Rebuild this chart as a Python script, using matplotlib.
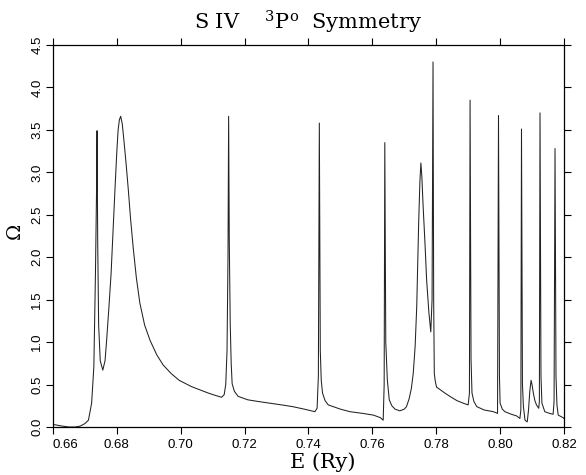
import matplotlib
matplotlib.use("Agg")
import matplotlib.pyplot as plt

# energies (Ry) and collision strength
energy = [0.6600, 0.6615, 0.6630, 0.6650, 0.6670, 0.6685, 0.6700, 0.6711, 0.6721, 0.6728,
          0.6733, 0.67365, 0.6738, 0.6740, 0.6743, 0.6748, 0.6756, 0.6763, 0.6768, 0.6775,
          0.6782, 0.6788, 0.6794, 0.6800, 0.6804, 0.6808, 0.6812, 0.6817, 0.6822, 0.6829, 0.6836,
          0.6843, 0.6851, 0.6861, 0.6872, 0.6887, 0.6904, 0.6925, 0.6945, 0.6970, 0.6995,
          0.7034, 0.7086, 0.7110, 0.7128, 0.7136, 0.7141, 0.7145, 0.7148, 0.7150, 0.7152,
          0.7155, 0.7158, 0.7161, 0.7168, 0.7180, 0.7210, 0.7243, 0.7280, 0.7316, 0.7350,
          0.7387, 0.7410, 0.7420, 0.7427, 0.7431, 0.7434, 0.7437, 0.7440, 0.7444, 0.7452,
          0.7462, 0.7500, 0.7530, 0.7570, 0.7603, 0.7625, 0.7634, 0.7637, 0.7639, 0.7642,
          0.7647, 0.7653, 0.7661, 0.7671, 0.7686, 0.7700, 0.7707, 0.7715, 0.7722, 0.7728,
          0.7734, 0.7739, 0.7745, 0.7749, 0.7752, 0.7755, 0.7759, 0.7765, 0.7770, 0.7777,
          0.7783, 0.7787, 0.7790, 0.7792, 0.7794, 0.7797, 0.7801, 0.7812, 0.7827, 0.7843,
          0.7865, 0.7885, 0.7900, 0.7904, 0.7906, 0.7909, 0.7912, 0.7918, 0.7927, 0.7950,
          0.7979, 0.7992, 0.7995, 0.7998, 0.8000, 0.8007, 0.8015, 0.8035, 0.8052, 0.8062,
          0.8065, 0.8067, 0.8070, 0.8073, 0.8078, 0.8085, 0.8089, 0.8093, 0.8097, 0.8100,
          0.8104, 0.8109, 0.8114, 0.8121, 0.8123, 0.8125, 0.8128, 0.8131, 0.8140, 0.8155,
          0.8166, 0.8169, 0.8172, 0.8175, 0.8178, 0.8182, 0.8197, 0.8200]
omega = [0.03, 0.02, 0.01, 0.00, 0.00, 0.01, 0.04, 0.08, 0.28, 0.71,
         1.81, 2.80, 3.49, 2.20, 1.20, 0.78, 0.67, 0.78, 1.02, 1.40,
         1.81, 2.30, 2.79, 3.25, 3.50, 3.62, 3.66, 3.57, 3.38, 3.10, 2.79,
         2.45, 2.12, 1.76, 1.46, 1.20, 1.02, 0.85, 0.73, 0.63, 0.55,
         0.475, 0.40, 0.37, 0.35, 0.38, 0.50, 0.90, 2.00, 3.66, 2.20,
         1.22, 0.75, 0.51, 0.42, 0.36, 0.32, 0.30, 0.28, 0.26, 0.24,
         0.21, 0.19, 0.18, 0.22, 0.60, 3.58, 0.90, 0.55, 0.40, 0.31,
         0.26, 0.21, 0.18, 0.16, 0.14, 0.11, 0.08, 0.50, 3.35, 1.00,
         0.55, 0.32, 0.25, 0.21, 0.19, 0.21, 0.24, 0.33, 0.45, 0.63,
         0.95, 1.42, 2.40, 2.90, 3.11, 2.95, 2.60, 2.15, 1.73, 1.35,
         1.12, 1.50, 4.30, 1.50, 0.63, 0.54, 0.47, 0.44, 0.40, 0.36,
         0.31, 0.28, 0.26, 0.40, 3.85, 0.80, 0.40, 0.30, 0.24, 0.20,
         0.18, 0.16, 3.67, 0.60, 0.28, 0.21, 0.18, 0.15, 0.13, 0.10,
         0.20, 3.51, 0.50, 0.24, 0.08, 0.06, 0.20, 0.42, 0.55, 0.50,
         0.40, 0.31, 0.26, 0.22, 0.30, 3.70, 0.60, 0.28, 0.18, 0.16,
         0.15, 0.30, 3.28, 0.60, 0.26, 0.14, 0.11, 0.10]

xticks = [0.66, 0.68, 0.70, 0.72, 0.74, 0.76, 0.78, 0.80, 0.82]
xlabels = ["0.66", "0.68", "0.70", "0.72", "0.74", "0.76", "0.78", "0.80", "0.82"]
yticks = [0.0, 0.5, 1.0, 1.5, 2.0, 2.5, 3.0, 3.5, 4.0, 4.5]

plt.rcParams['mathtext.fontset'] = 'dejavuserif'

fig = plt.figure(figsize=(5.86, 4.75), dpi=100)
ax = fig.add_axes([0.0904, 0.1011, 0.872, 0.8042])

ax.plot(energy, omega, color='#222222', lw=0.75)

ax.set_xlim(0.66, 0.82)
ax.set_ylim(0.0, 4.5)
ax.set_xticks(xticks)
ax.set_xticklabels(xlabels, fontsize=9.5, family='Liberation Sans')
ax.set_yticks(yticks)
ax.set_yticklabels(["%.1f" % v for v in yticks], fontsize=9.5, family='Liberation Sans',
                   rotation=90, va='center')
ax.get_xticklabels()[0].set_horizontalalignment('left')

ax.tick_params(direction='out', length=5, width=0.8, top=True, right=True)
ax.tick_params(axis='y', pad=2)
for s in ax.spines.values():
    s.set_linewidth(0.9)

ax.set_title(r'S IV    $^{3}$P$^{\mathrm{o}}$  Symmetry', family='DejaVu Serif',
             fontsize=15, pad=11)
ax.set_xlabel('E (Ry)', family='DejaVu Serif', fontsize=15)
ax.xaxis.set_label_coords(0.527, -0.066)
ax.set_ylabel(r'$\Omega$', fontsize=14)
ax.yaxis.set_label_coords(-0.055, 0.51)

fig.savefig('out.png', dpi=100)
